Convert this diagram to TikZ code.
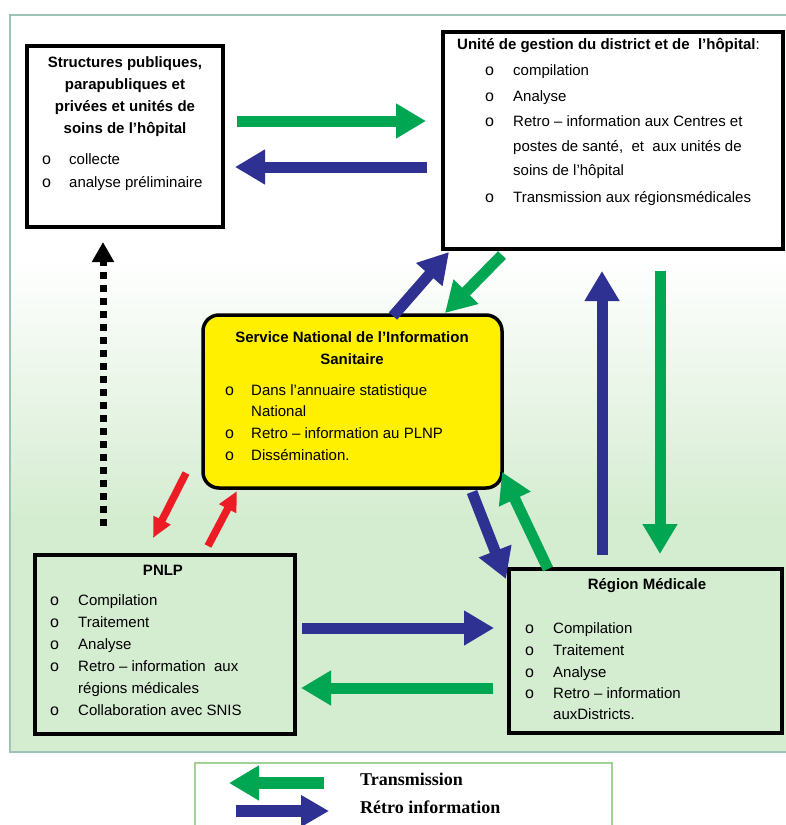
\documentclass[tikz,border=0pt]{standalone}
\usepackage{fontspec}
\setmainfont{Liberation Sans}
\newfontfamily\legfont{Liberation Serif}
\usetikzlibrary{arrows.meta}
\definecolor{gr}{RGB}{0,166,81}
\definecolor{bl}{RGB}{46,49,146}
\definecolor{rd}{RGB}{237,28,36}
\definecolor{bgg}{RGB}{212,236,208}
\definecolor{panelline}{RGB}{160,195,185}
\definecolor{ylw}{RGB}{255,240,0}
\definecolor{legline}{RGB}{160,210,150}
\tikzset{
  box/.style={draw=black,line width=3.5pt,inner sep=0pt},
  txt/.style={anchor=mid west,inner sep=0pt,font=\fontsize{15}{18}\selectfont},
  ttl/.style={anchor=mid,inner sep=0pt,font=\fontsize{15}{18}\selectfont\bfseries},
  bul/.style={anchor=mid west,inner sep=0pt,font=\fontsize{16}{18}\selectfont},
  fat/.style={line width=11pt,-{Triangle[length=30pt,width=33pt]}},
  thin/.style={line width=7.5pt,-{Triangle[length=20pt,width=18pt]}},
}
\newcommand\bitem[5]{%
  \node[bul] (#1b) at (#2,#4) {o};
  \node[txt] (#1) at (#3,#4) {#5};}
\begin{document}
\begin{tikzpicture}[x=1pt,y=-1pt]
\useasboundingbox (0,0) rectangle (786,825);
% background panel
\fill[white] (10,15) rectangle (790,260);
\shade[top color=white,bottom color=bgg] (10,259) rectangle (790,521);
\fill[bgg] (10,520) rectangle (790,752);
\draw[panelline,line width=1.2pt] (790,15) -- (10,15) -- (10,752) -- (790,752);
% boxes
\node[box,fill=white,minimum width=196pt,minimum height=181pt] (s1) at (125,136.5) {};
\node[box,fill=white,minimum width=340pt,minimum height=217pt] (ug) at (613,140.5) {};
\node[box,fill=ylw,rounded corners=16pt,minimum width=299pt,minimum height=173pt] (sn) at (352.5,401.5) {};
\node[box,minimum width=260pt,minimum height=179pt] (pn) at (165,644.5) {};
\node[box,minimum width=273pt,minimum height=164pt] (rm) at (645.5,651) {};
% box 1 text
\node[ttl] (s1t1) at (125,65) {Structures publiques,};
\node[ttl] (s1t2) at (125,87) {parapubliques et};
\node[ttl] (s1t3) at (125,109) {privées et unités de};
\node[ttl] (s1t4) at (125,131) {soins de l’hôpital};
\bitem{s1a}{42}{69}{162}{collecte}
\bitem{s1c}{42}{69}{185}{analyse préliminaire}
% Unite text
\node[txt] (ugt) at (457,47) {\bfseries Unité de gestion du district et de\ \ l’hôpital\mdseries:};
\bitem{uga}{485}{513}{73}{compilation}
\bitem{ugb}{485}{513}{99}{Analyse}
\bitem{ugc}{485}{513}{124}{Retro – information aux Centres et}
\node[txt] (ugd) at (513,149) {postes de santé,\ \ et\ \ aux unités de};
\node[txt] (uge) at (513,173) {soins de l’hôpital};
\bitem{ugf}{485}{513}{200}{Transmission aux régionsmédicales}
% SNIS text
\node[ttl] (snt1) at (352,340) {Service National de l’Information};
\node[ttl] (snt2) at (352,362) {Sanitaire};
\bitem{sna}{225}{251}{393}{Dans l’annuaire statistique}
\node[txt] (snb) at (251,414) {National};
\bitem{snc}{225}{251}{436}{Retro – information au PLNP}
\bitem{snd}{225}{251}{458}{Dissémination.}
% PNLP text
\node[ttl] (pnt) at (163,573) {PNLP};
\bitem{pna}{50}{78}{603}{Compilation}
\bitem{pnb}{50}{78}{625}{Traitement}
\bitem{pnc}{50}{78}{647}{Analyse}
\bitem{pnd}{50}{78}{669}{Retro – information\ \ aux}
\node[txt] (pne) at (78,691) {régions médicales};
\bitem{pnf}{50}{78}{713}{Collaboration avec SNIS}
% Region text
\node[ttl] (rmt) at (647,587) {Région Médicale};
\bitem{rma}{525}{553}{631}{Compilation}
\bitem{rmb}{525}{553}{653}{Traitement}
\bitem{rmc}{525}{553}{675}{Analyse}
\bitem{rmd}{525}{553}{696}{Retro – information}
\node[txt] (rme) at (553,717) {auxDistricts.};
% arrow end points
\coordinate (a1s) at (237,121); \coordinate (a1e) at (426,121);
\coordinate (a2s) at (427,167); \coordinate (a2e) at (235,167);
\coordinate (a3s) at (393,316); \coordinate (a3e) at (449,252);
\coordinate (a4s) at (502,255); \coordinate (a4e) at (445,313);
\coordinate (a5s) at (602,555); \coordinate (a5e) at (602,271);
\coordinate (a6s) at (660,271); \coordinate (a6e) at (660,554);
\coordinate (a7s) at (472,492); \coordinate (a7e) at (506,579);
\coordinate (a8s) at (548,569); \coordinate (a8e) at (502,472);
\coordinate (a9s) at (302,628); \coordinate (a9e) at (494,628);
\coordinate (a10s) at (493,688); \coordinate (a10e) at (301,688);
\coordinate (r1s) at (186,473); \coordinate (r1e) at (153,538);
\coordinate (r2s) at (208,546); \coordinate (r2e) at (237,491);
\coordinate (d1s) at (103,526); \coordinate (d1e) at (103,242);
% arrows
\draw[fat,gr] (a1s) -- (a1e);
\draw[fat,bl] (a2s) -- (a2e);
\draw[fat,bl] (a3s) -- (a3e);
\draw[fat,gr] (a4s) -- (a4e);
\draw[fat,bl] (a5s) -- (a5e);
\draw[fat,gr] (a6s) -- (a6e);
\draw[fat,bl] (a7s) -- (a7e);
\draw[fat,gr] (a8s) -- (a8e);
\draw[fat,bl] (a9s) -- (a9e);
\draw[fat,gr] (a10s) -- (a10e);
\draw[thin,rd] (r1s) -- (r1e);
\draw[thin,rd] (r2s) -- (r2e);
\draw[black,line width=7pt,dash pattern=on 7pt off 6pt,-{Triangle[length=20pt,width=21pt]}] (d1s) -- (d1e);
% legend
\draw[legline,fill=white,line width=1.2pt] (195,763) rectangle (612,830);
\coordinate (l1s) at (324,783); \coordinate (l1e) at (229,783);
\coordinate (l2s) at (236,811); \coordinate (l2e) at (329,811);
\draw[gr,line width=12pt,-{Triangle[length=30pt,width=33pt]}] (l1s) -- (l1e);
\draw[bl,line width=12pt,-{Triangle[length=28pt,width=30pt]}] (l2s) -- (l2e);
\node[anchor=mid west,inner sep=0pt,font=\legfont\fontsize{18}{20}\selectfont\bfseries] (lt1) at (360,783) {Transmission};
\node[anchor=mid west,inner sep=0pt,font=\legfont\fontsize{18}{20}\selectfont\bfseries] (lt2) at (360,811) {Rétro information};
\end{tikzpicture}
\end{document}
